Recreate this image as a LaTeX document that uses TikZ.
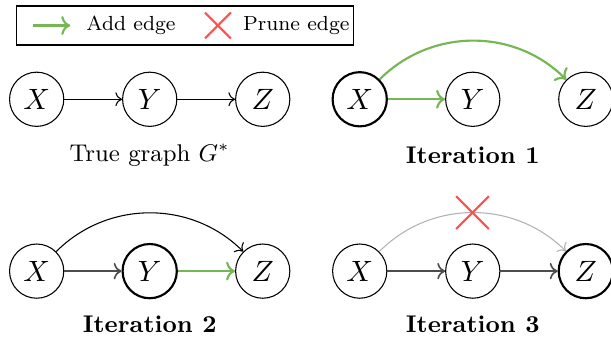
\documentclass[tikz,border=0pt]{standalone}
\usetikzlibrary{positioning, shapes.misc, arrows.meta}
\definecolor{addcol}{RGB}{118, 182, 84}
\definecolor{prunecol}{RGB}{255, 80, 80}

\begin{document}
\begin{tikzpicture}[
	node distance=1.48cm, on grid,
	% Styles for the variables and the edges
	var/.style={draw, circle, minimum size=0.71cm, inner sep=0pt, font=\fontsize{11}{13}\selectfont},
	active/.style={var, thick},
	edge/.style={->},
	keptedge/.style={->, semithick, black!70},
	addedge/.style={->, thick, addcol},
	faintedge/.style={->, black!30},
	prunemark/.style={draw=prunecol, cross out, thick, minimum size=0.4cm, inner sep=0pt},
	caption/.style={font=\small},
	legendtext/.style={font=\fontsize{7.6}{9}\selectfont}
	]
	\useasboundingbox (0,-4.4) rectangle (8,0);
	
	% ==========================================
	% 0. LEGEND
	% ==========================================
	\node[draw, minimum width=4.41cm, minimum height=0.51cm, inner sep=0pt] (legend) at (2.425,-0.334) {};
	\coordinate (adda) at (0.43,-0.334);
	\coordinate (addb) at (0.92,-0.334);
	\draw[addedge] (adda) -- (addb);
	\node[legendtext] (addlabel) at (1.715,-0.334) {Add edge};
	\node[prunemark, minimum size=0.31cm] (prunelegend) at (2.854,-0.334) {};
	\node[legendtext] (prunelabel) at (3.88,-0.334) {Prune edge};
	
	% ==========================================
	% 1. TRUE GRAPH
	% ==========================================
	\node[var] (x1) at (0.48,-1.30) {$X$};
	\node[var, right=of x1] (y1) {$Y$};
	\node[var, right=of y1] (z1) {$Z$};
	\draw[edge] (x1) -- (y1);
	\draw[edge] (y1) -- (z1);
	\node[caption, below=0.73cm of y1] (cap1) {True graph $G^*$};
	
	% ==========================================
	% 2. ITERATION 1
	% ==========================================
	\node[active] (x2) at (4.71,-1.30) {$X$};
	\node[var, right=of x2] (y2) {$Y$};
	\node[var, right=of y2] (z2) {$Z$};
	\draw[addedge] (x2) -- (y2);
	\draw[addedge] (x2) to[bend left=45] (z2);
	\node[caption, below=0.73cm of y2] (cap2) {\textbf{Iteration 1}};
	
	% ==========================================
	% 3. ITERATION 2
	% ==========================================
	\node[var] (x3) at (0.48,-3.55) {$X$};
	\node[active, right=of x3] (y3) {$Y$};
	\node[var, right=of y3] (z3) {$Z$};
	\draw[keptedge] (x3) -- (y3);
	\draw[edge] (x3) to[bend left=45] (z3);
	\draw[addedge] (y3) -- (z3);
	\node[caption, below=0.70cm of y3] (cap3) {\textbf{Iteration 2}};
	
	% ==========================================
	% 4. ITERATION 3
	% ==========================================
	\node[var] (x4) at (4.71,-3.55) {$X$};
	\node[var, right=of x4] (y4) {$Y$};
	\node[active, right=of y4] (z4) {$Z$};
	\draw[keptedge] (x4) -- (y4);
	\draw[keptedge] (y4) -- (z4);
	\draw[faintedge] (x4) to[bend left=45] node[prunemark] (cut) {} (z4);
	\node[caption, below=0.70cm of y4] (cap4) {\textbf{Iteration 3}};
	
\end{tikzpicture}
\end{document}
